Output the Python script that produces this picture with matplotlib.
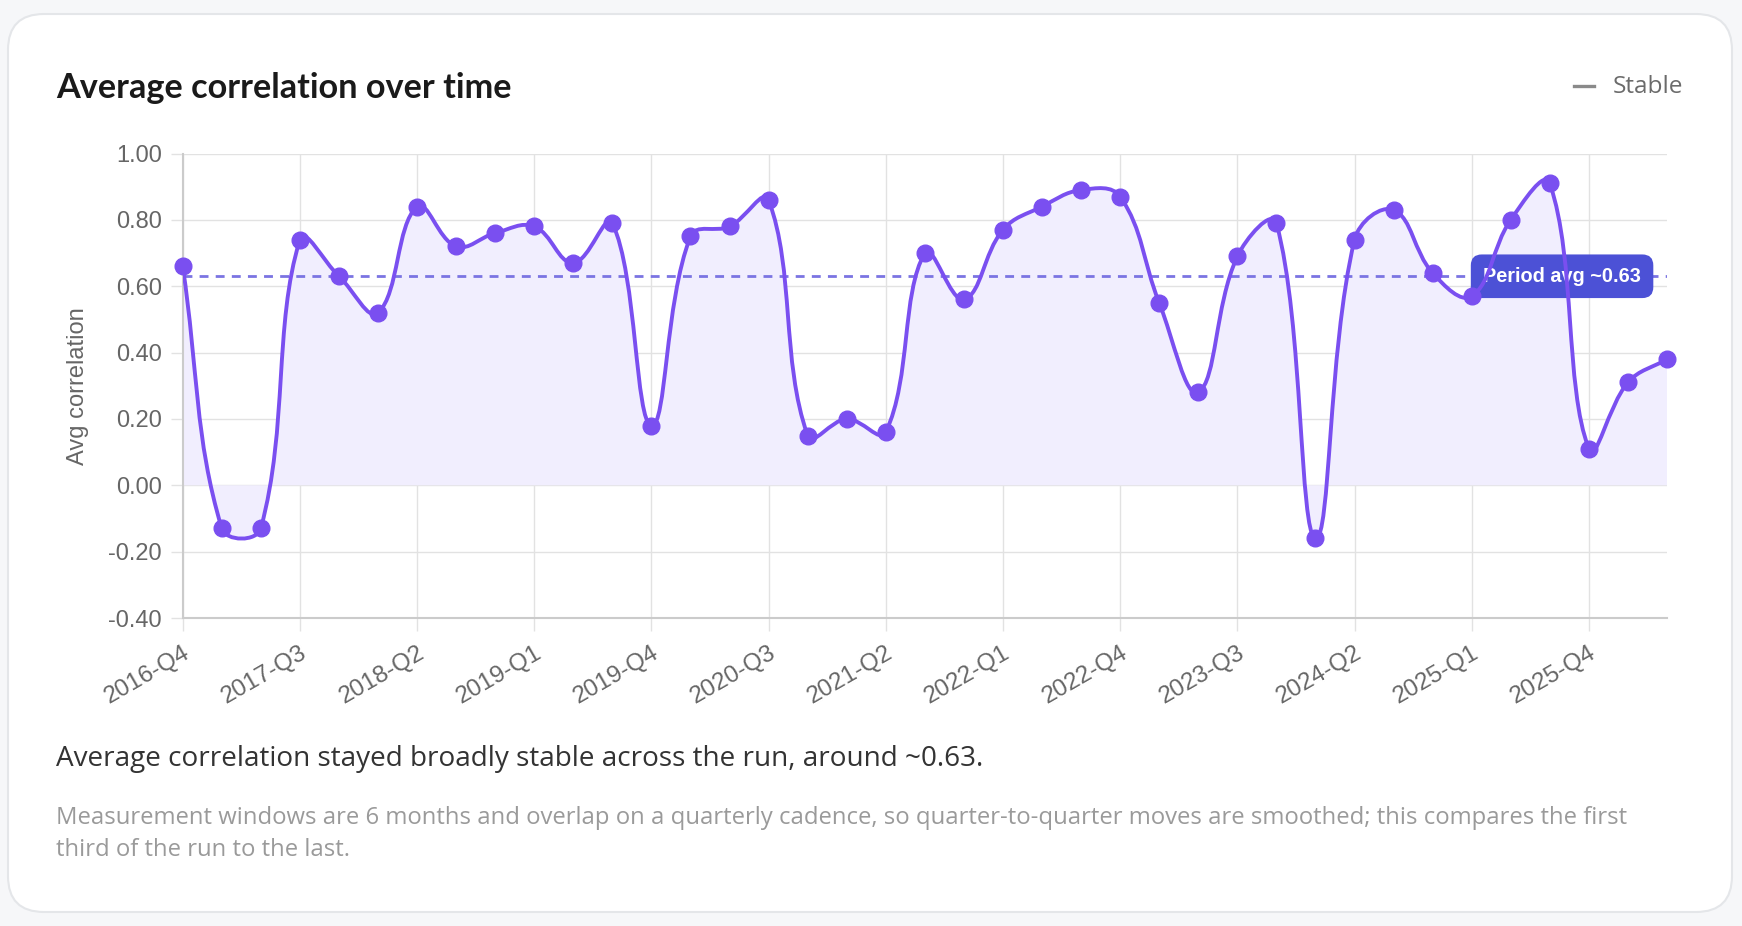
import matplotlib
matplotlib.use("Agg")
import matplotlib.pyplot as plt
import numpy as np
from matplotlib.patches import FancyBboxPatch, PathPatch
from matplotlib.path import Path

# data
quarters = []
for yr in range(2016, 2027):
    for q in range(1, 5):
        quarters.append(f"{yr}-Q{q}")
quarters = quarters[3:3 + 39]   # 2016-Q4 .. 2026-Q2

avg_corr = [0.66, -0.13, -0.13, 0.74, 0.63, 0.52, 0.84, 0.72, 0.76, 0.78,
            0.67, 0.79, 0.18, 0.75, 0.78, 0.86, 0.15, 0.20, 0.16, 0.70,
            0.56, 0.77, 0.84, 0.89, 0.87, 0.55, 0.28, 0.69, 0.79, -0.16,
            0.74, 0.83, 0.64, 0.57, 0.80, 0.91, 0.11, 0.31, 0.38]
period_avg = 0.63
y_ticks = [-0.4, -0.2, 0.0, 0.2, 0.4, 0.6, 0.8, 1.0]

title = "Average correlation over time"
subtitle = "Average correlation stayed broadly stable across the run, around ~0.63."
note = ("Measurement windows are 6 months and overlap on a quarterly cadence, so quarter-to-quarter moves are smoothed; this compares the first\n"
        "third of the run to the last.")

W, H = 1742, 926
LINE = "#7a4ff0"
FILL = "#f1eefe"
GRID = "#e2e2e2"

fig = plt.figure(figsize=(W / 100, H / 100), dpi=100, facecolor="#f6f7f9")

# background axes in pixel units for the card and texts
bg = fig.add_axes([0, 0, 1, 1], zorder=0)
bg.set_xlim(0, W)
bg.set_ylim(H, 0)
bg.axis("off")
card = FancyBboxPatch((8, 14), 1724, 898, boxstyle="round,pad=0,rounding_size=36",
                      facecolor="white", edgecolor="#e4e6e9", lw=1.5)
bg.add_patch(card)
bg.text(56, 88, title, fontsize=24.7, fontweight="bold", family="Lato",
        color="#1a1a1a", va="center", ha="left")
bg.text(56, 759, subtitle, fontsize=20.1, family="Open Sans", color="#333333",
        va="center", ha="left")
bg.text(56, 834, note, fontsize=17.2, family="Open Sans", color="#9a9a9a",
        va="center", ha="left", linespacing=1.45)
bg.plot([1574, 1594], [86, 86], color="#8a8a8a", lw=2.4)
bg.text(1613, 87, "Stable", fontsize=17.6, family="Open Sans", color="#6b6b6b",
        va="center", ha="left")

# chart axes
x0, x1 = 182.7, 1667
ytop, ybot = 153.5, 618
ax = fig.add_axes([x0 / W, 1 - ybot / H, (x1 - x0) / W, (ybot - ytop) / H], zorder=1)
ax.set_facecolor("none")
n = len(avg_corr)
xs = np.arange(n)
ax.set_xlim(0, n - 1)
ax.set_ylim(-0.4, 1.0)

# chart.js style bezier (tension 0.4) computed in pixel space
trans = ax.transData
pix = trans.transform(np.column_stack([xs, avg_corr]))
t = 0.4
verts = [pix[0]]
codes = [Path.MOVETO]
cp_prev, cp_next = [], []
for i in range(n):
    prev = pix[i - 1] if i > 0 else pix[i]
    cur = pix[i]
    nxt = pix[i + 1] if i < n - 1 else pix[i]
    d01 = np.hypot(*(cur - prev))
    d12 = np.hypot(*(nxt - cur))
    s = d01 + d12
    s01 = d01 / s if s else 0
    s12 = d12 / s if s else 0
    cp_prev.append(cur - t * s01 * (nxt - prev))
    cp_next.append(cur + t * s12 * (nxt - prev))
for i in range(1, n):
    verts += [cp_next[i - 1], cp_prev[i], pix[i]]
    codes += [Path.CURVE4] * 3
verts = trans.inverted().transform(np.array(verts))
curve = Path(verts, codes)

fill_verts = np.vstack([verts, [[n - 1, 0], [0, 0], [0, avg_corr[0]]]])
fill_codes = codes + [Path.LINETO, Path.LINETO, Path.CLOSEPOLY]
ax.add_patch(PathPatch(Path(fill_verts, fill_codes), facecolor=FILL, edgecolor="none", zorder=1))
ax.add_patch(PathPatch(curve, facecolor="none", edgecolor=LINE, lw=2.8, zorder=4))
ax.plot(xs, avg_corr, "o", color=LINE, ms=12, zorder=5, clip_on=False)

ax.axhline(period_avg, color="#7b74e2", lw=2, dashes=(3.2, 2.6), zorder=3)
ax.annotate("Period avg ~0.63", xy=(1, period_avg), xycoords=("axes fraction", "data"),
            xytext=(-26, 0), textcoords="offset pixels", ha="right", va="center",
            color="white", fontsize=14.3, fontweight="bold", family="Liberation Sans",
            bbox=dict(boxstyle="round,pad=0.62,rounding_size=0.55", fc="#4c51d6", ec="none"),
            zorder=3.5)

ax.set_xticks(xs[::3])
ax.set_xticklabels(quarters[::3], rotation=30, ha="right", rotation_mode="anchor",
                   family="Liberation Sans", fontsize=17.5, color="#666666")
ax.set_yticks(y_ticks)
ax.set_yticklabels([f"{v:.2f}" for v in y_ticks], family="Liberation Sans",
                   fontsize=17, color="#666666")
ax.tick_params(axis="both", length=9, width=1, color=GRID)
ax.tick_params(axis="x", pad=8)
ax.tick_params(axis="y", pad=6)
ax.grid(True, color=GRID, lw=1, zorder=0)
ax.set_axisbelow(True)
for side in ["top", "right"]:
    ax.spines[side].set_visible(False)
for side in ["left", "bottom"]:
    ax.spines[side].set_color("#cbcbcb")
    ax.spines[side].set_linewidth(1.5)
ax.set_ylabel("Avg correlation", family="Liberation Sans", fontsize=17,
              color="#666666", labelpad=14)

fig.savefig("out.png", dpi=100, facecolor=fig.get_facecolor())
